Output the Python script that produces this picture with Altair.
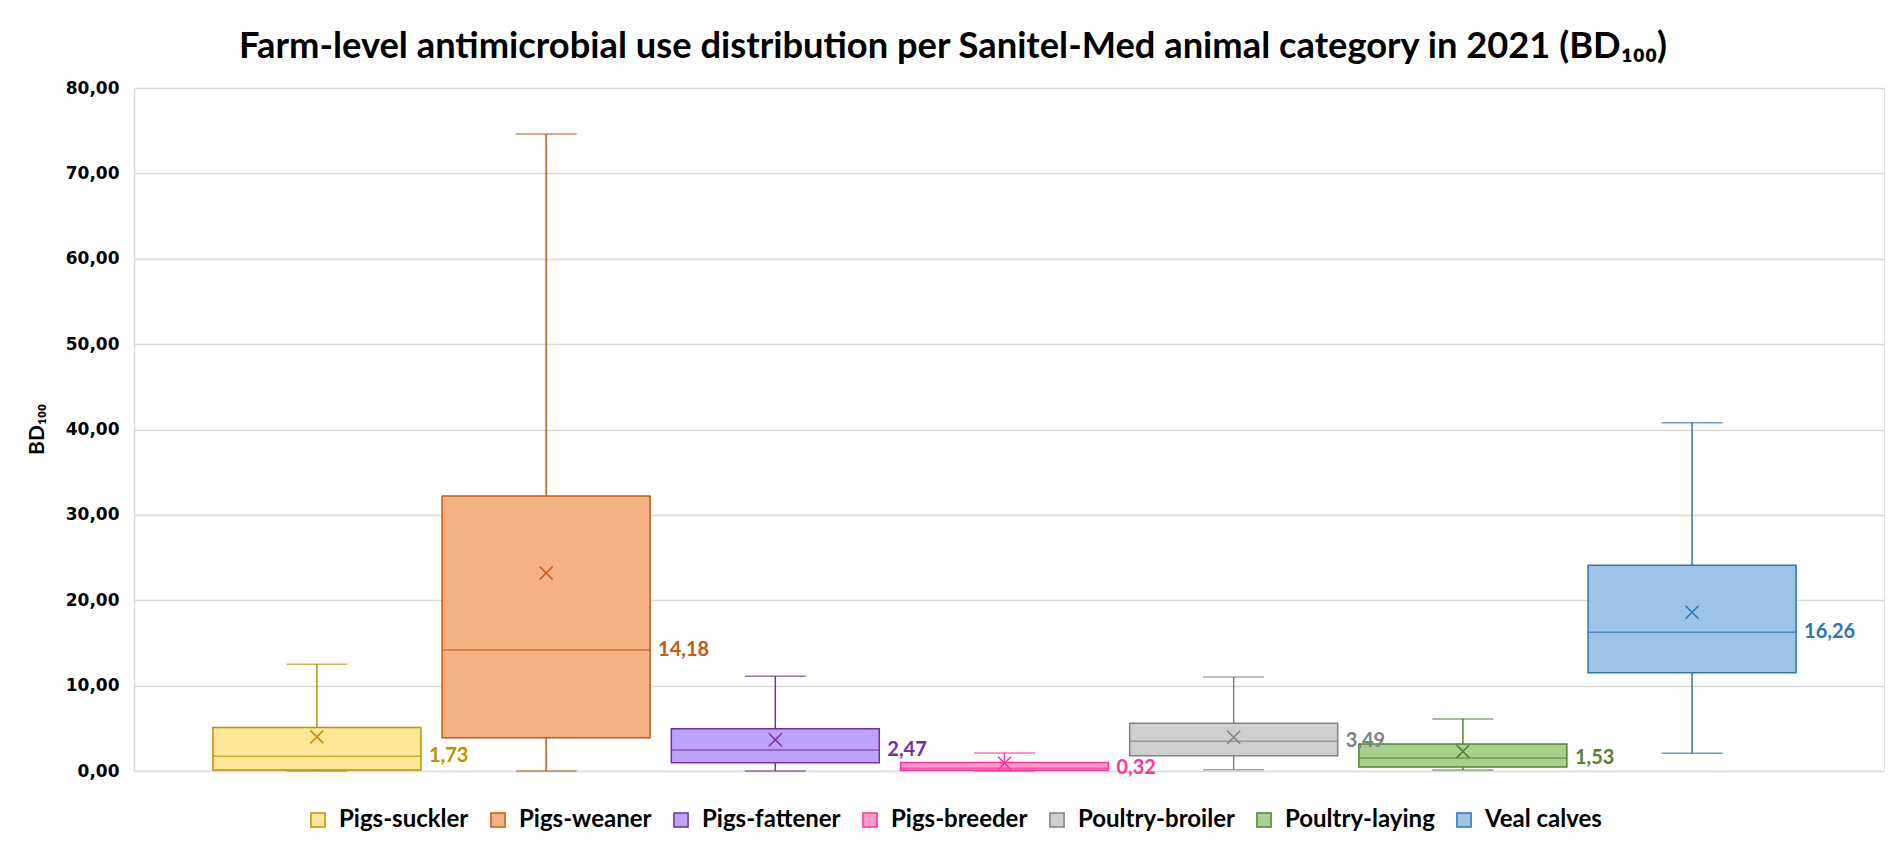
import altair as alt
import pandas as pd

categories = ["Pigs-suckler", "Pigs-weaner", "Pigs-fattener", "Pigs-breeder",
              "Poultry-broiler", "Poultry-laying", "Veal calves"]
whisker_low = [0.0, 0.0, 0.0, 0.0, 0.15, 0.12, 2.07]
q1 = [0.12, 3.9, 0.97, 0.08, 1.8, 0.47, 11.5]
median = [1.73, 14.18, 2.47, 0.32, 3.49, 1.53, 16.26]
q3 = [5.1, 32.2, 4.95, 1.0, 5.6, 3.16, 24.1]
whisker_high = [12.49, 74.6, 11.1, 2.1, 11.0, 6.1, 40.8]
mean = [4.0, 23.2, 3.65, 0.9, 3.96, 2.3, 18.6]
median_labels = ["1,73", "14,18", "2,47", "0,32", "3,49", "1,53", "16,26"]

fill_colors = ["#FFE699", "#F4B183", "#BDA2FA", "#FF99CC", "#D0CECE", "#A9D18E", "#9DC3E6"]
line_colors = ["#BF9000", "#C55A11", "#7030A0", "#FF3399", "#808080", "#548235", "#2E75B6"]

df = pd.DataFrame({
    "cat": categories, "lo": whisker_low, "q1": q1, "med": median, "q3": q3,
    "hi": whisker_high, "mean": mean, "lab": median_labels,
    "dark": line_colors,
})

xscale = alt.Scale(domain=categories, paddingInner=0.0925, paddingOuter=0.364, align=0.473)
yscale = alt.Scale(domain=[0, 80], nice=False)
y_axis = alt.Axis(
    title="BD₁₀₀", values=[0, 10, 20, 30, 40, 50, 60, 70, 80],
    labelExpr="replace(format(datum.value, '.2f'), '.', ',')",
    labelFont="DejaVu Sans", labelFontWeight="bold", labelFontSize=17, labelColor="#000000",
    labelPadding=15, ticks=False, domainColor="#D9D9D9", domainWidth=1.5,
    grid=True, gridColor="#D9D9D9", gridWidth=1.5,
    titleFont="Lato", titleFontSize=21, titleFontWeight="bold", titleColor="#000000",
    titleAngle=-90, titleX=-97, titleY=341, titleAlign="center", titleBaseline="middle",
)
X = alt.X("cat:N", scale=xscale, sort=categories, axis=None)
dark = alt.Color("dark:N", scale=None)

base = alt.Chart(df)

whisker = base.mark_rule(strokeWidth=1.5).encode(
    x=X, y=alt.Y("lo:Q", scale=yscale, axis=y_axis), y2="hi:Q", color=dark)
cap_lo = base.mark_tick(size=61, thickness=1.5).encode(
    x=X, y=alt.Y("lo:Q", scale=yscale, axis=y_axis), color=dark)
cap_hi = base.mark_tick(size=61, thickness=1.5).encode(
    x=X, y=alt.Y("hi:Q", scale=yscale, axis=y_axis), color=dark)

legend = alt.Legend(title=None, orient="none", direction="horizontal", columns=7,
                    legendX=172, legendY=720)
box = base.mark_bar(strokeWidth=1.5).encode(
    x=X, y=alt.Y("q1:Q", scale=yscale, axis=y_axis), y2="q3:Q",
    fill=alt.Fill("cat:N", scale=alt.Scale(domain=categories, range=fill_colors), legend=legend, sort=categories),
    stroke=alt.Stroke("cat:N", scale=alt.Scale(domain=categories, range=line_colors), legend=legend, sort=categories),
)
med_line = base.mark_tick(size=208, thickness=1.5).encode(
    x=X, y=alt.Y("med:Q", scale=yscale, axis=y_axis), color=dark)
mean_mark = base.mark_point(
    shape="M-1,-1L1,1M1,-1L-1,1", size=169, strokeWidth=1.5, filled=False, opacity=1
).encode(x=X, y=alt.Y("mean:Q", scale=yscale, axis=y_axis), stroke=alt.Stroke("dark:N", scale=None))
labels = base.mark_text(
    align="left", baseline="middle", dx=8, font="Lato", fontSize=20, fontWeight="bold"
).encode(
    x=alt.X("cat:N", scale=xscale, sort=categories, axis=None, bandPosition=1),
    y=alt.Y("med:Q", scale=yscale, axis=y_axis), text="lab:N", color=dark)

chart = alt.layer(whisker, cap_lo, cap_hi, box, med_line, mean_mark, labels).properties(
    width=1750, height=683,
    autosize=alt.AutoSizeParams(type="none"),
    padding={"left": 126, "top": 80, "right": 5, "bottom": 68},
    title=alt.TitleParams(
        "Farm-level antimicrobial use distribution per Sanitel-Med animal category in 2021 (BD₁₀₀)",
        font="Lato", fontSize=36.3, fontWeight="bold", color="#000000", anchor="middle",
        dx=-56, dy=39, offset=24, baseline="alphabetic"),
).configure_view(strokeWidth=0).configure(background="white").configure_legend(
    symbolType="square", symbolSize=200, symbolStrokeWidth=1.5,
    labelFont="Lato", labelFontSize=24, labelFontWeight="bold", labelColor="#000000",
    labelLimit=400, labelOffset=9, columnPadding=17, gridAlign="none",
)

chart.save("out.html", embed_options={"renderer": "svg", "actions": False})
